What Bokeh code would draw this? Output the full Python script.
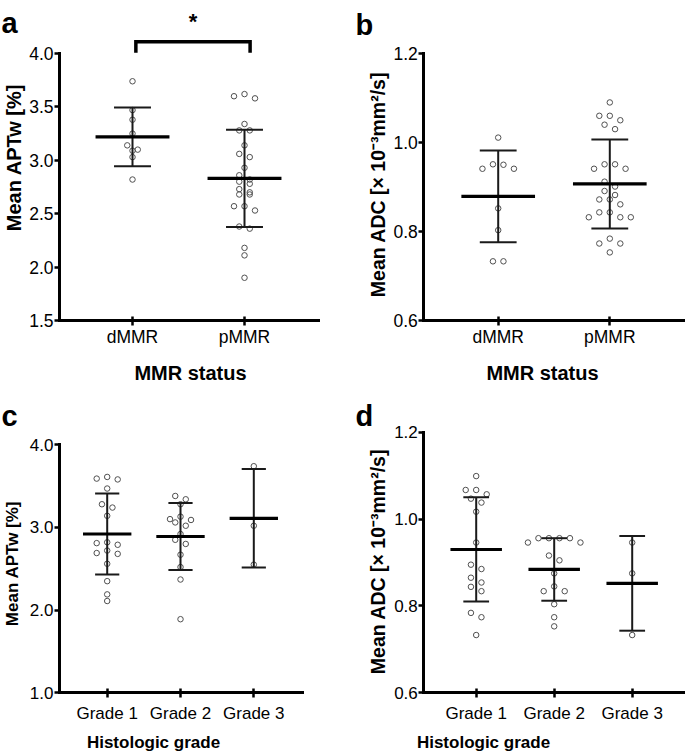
import math
from bokeh.plotting import figure
from bokeh.layouts import column, row
from bokeh.models import FixedTicker, PrintfTickFormatter, Range1d
from bokeh.core.properties import value
from bokeh.embed import file_html
from bokeh.resources import INLINE

FONT = "Liberation Sans"

# ---------------- data ----------------
mmr_groups = ["dMMR", "pMMR"]
grade_groups = ["Grade 1", "Grade 2", "Grade 3"]

aptw_dmmr = [3.74, 3.47, 3.38, 3.25, 3.14, 3.10, 3.09, 3.03, 2.82]
aptw_pmmr = [3.62, 3.60, 3.58, 3.34, 3.28, 3.28, 3.14, 3.06, 3.03, 2.93, 2.86, 2.82, 2.80,
             2.78, 2.73, 2.70, 2.68, 2.68, 2.57, 2.57, 2.53, 2.38, 2.36, 2.18, 2.11, 1.90]
aptw_mmr_mean = [3.22, 2.83]
aptw_mmr_sd = [0.275, 0.455]

adc_dmmr = [1.011, 0.951, 0.950, 0.941, 0.941, 0.852, 0.803, 0.733, 0.733]
adc_pmmr = [1.090, 1.060, 1.060, 1.050, 1.040, 1.030, 0.951, 0.951, 0.941, 0.941, 0.912, 0.901, 0.891,
            0.882, 0.872, 0.872, 0.861, 0.843, 0.843, 0.832, 0.832, 0.832, 0.784, 0.773, 0.773, 0.753]
adc_mmr_mean = [0.879, 0.907]
adc_mmr_sd = [0.103, 0.100]

aptw_g1 = [3.61, 3.59, 3.58, 3.47, 3.28, 3.24, 3.14, 2.82, 2.81, 2.79, 2.72, 2.69, 2.68,
           2.56, 2.35, 2.19, 2.11]
aptw_g2 = [3.38, 3.34, 3.28, 3.13, 3.10, 3.09, 3.06, 3.02, 2.92, 2.85, 2.80, 2.67, 2.52, 2.37, 1.89]
aptw_g3 = [3.74, 3.02, 2.55]
aptw_grade_mean = [2.92, 2.89, 3.11]
aptw_grade_sd = [0.49, 0.405, 0.595]

adc_g1 = [1.099, 1.067, 1.067, 1.057, 1.047, 1.038, 1.017, 0.946, 0.895, 0.885, 0.865, 0.854,
          0.844, 0.834, 0.784, 0.774, 0.733]
adc_g2 = [0.956, 0.956, 0.956, 0.956, 0.946, 0.946, 0.916, 0.905, 0.875, 0.845, 0.834, 0.834,
          0.804, 0.774, 0.753]
adc_g3 = [0.946, 0.875, 0.733]
adc_grade_mean = [0.930, 0.884, 0.852]
adc_grade_sd = [0.120, 0.072, 0.109]

aptw_ticks_mmr = [1.5, 2.0, 2.5, 3.0, 3.5, 4.0]
aptw_ticks_grade = [1.0, 2.0, 3.0, 4.0]
adc_ticks = [0.6, 0.8, 1.0, 1.2]

APTW_TITLE = "Mean APTw [%]"
ADC_TITLE = "Mean ADC [\u00d7 10\u207b\u00b3mm\u00b2/s]"


def swarm(vals, px_per_unit, thresh=5.0):
    """Prism-like column scatter: near-equal values share a row, spread symmetrically."""
    rows = []
    for v in sorted(vals, reverse=True):
        if rows and (rows[-1][0] - v) * px_per_unit < thresh:
            rows[-1].append(v)
        else:
            rows.append([v])
    ys, offs = [], []
    for r in rows:
        n = len(r)
        slots = sorted([i - (n - 1) / 2 for i in range(n)], key=lambda s: (abs(s), s))
        for v, s in zip(r, slots):
            ys.append(v)
            offs.append(s)
    return ys, offs


def make_panel(groups, series, means, sds, ylabel, xlabel, yticks, ybounds, letter, g,
               tick_fs, ytitle_fs, xtitle_fs, xlabel_standoff, star=None):
    # g: pixel geometry of the panel (layout only)
    X0, Y0, W, H = g["box"]
    xppu, yppu = g["xppu"], g["yppu"]

    def dx(px):
        return 1 + (px - g["xref"]) / xppu

    def dy(py):
        return g["yval"] + (g["yref"] - py) / yppu

    p = figure(width=W, height=H, output_backend="svg", toolbar_location=None,
               x_range=Range1d(dx(X0), dx(X0 + W)), y_range=Range1d(dy(Y0 + H), dy(Y0)),
               min_border=0, min_border_left=0, min_border_right=0,
               min_border_top=0, min_border_bottom=0)
    p.outline_line_color = None
    p.xgrid.visible = False
    p.ygrid.visible = False
    p.background_fill_color = "white"
    p.border_fill_color = "white"

    slot = 10.5 / xppu
    positions = list(range(1, len(groups) + 1))
    for pos, vals in zip(positions, series):
        ys, offs = swarm(vals, yppu)
        p.scatter([pos + o * slot for o in offs], ys, marker="circle", size=5.5,
                  fill_color=None, line_color="#505050", line_width=1)

    mean_hw = 0.33
    cap_hw = 0.165
    hi = [m + s for m, s in zip(means, sds)]
    lo = [m - s for m, s in zip(means, sds)]
    p.segment(x0=positions, x1=positions, y0=lo, y1=hi, line_color="#1a1a1a", line_width=2)
    p.segment(x0=[q - cap_hw for q in positions], x1=[q + cap_hw for q in positions],
              y0=hi, y1=hi, line_color="#1a1a1a", line_width=2)
    p.segment(x0=[q - cap_hw for q in positions], x1=[q + cap_hw for q in positions],
              y0=lo, y1=lo, line_color="#1a1a1a", line_width=2)
    p.segment(x0=[q - mean_hw for q in positions], x1=[q + mean_hw for q in positions],
              y0=means, y1=means, line_color="black", line_width=3.2)

    # axes, drawn at fixed locations so that they take no side-panel space
    x_axis_start = dx(g["yaxis_px"])
    x_axis_end = dx(g["xend_px"])
    for ax in (p.xaxis, p.yaxis):
        ax.axis_line_width = 3
        ax.axis_line_color = "black"
        ax.axis_line_cap = "square"
        ax.major_tick_line_width = 2.5
        ax.major_tick_line_color = "black"
        ax.minor_tick_line_color = None
        ax.major_label_text_font = FONT
        ax.major_label_text_font_size = tick_fs
        ax.major_label_text_color = "black"
    p.xaxis.ticker = FixedTicker(ticks=positions)
    p.xaxis.major_label_overrides = {q: lab for q, lab in zip(positions, groups)}
    p.xaxis.major_tick_in = 4
    p.xaxis.major_tick_out = 5
    p.xaxis.major_label_standoff = xlabel_standoff
    p.xaxis.bounds = (x_axis_start, x_axis_end)
    p.xaxis.fixed_location = ybounds[0]

    p.yaxis.ticker = FixedTicker(ticks=yticks)
    p.yaxis.formatter = PrintfTickFormatter(format="%.1f")
    p.yaxis.major_tick_in = 0
    p.yaxis.major_tick_out = 5
    p.yaxis.major_label_standoff = 1
    p.yaxis.bounds = ybounds
    p.yaxis.fixed_location = x_axis_start

    # axis titles as text placed where the reference has them
    tx, ty = g["ytitle_px"]
    p.text(x=[dx(tx)], y=[dy(ty)], text=[ylabel], angle=math.pi / 2, text_font=value(FONT),
           text_font_size=ytitle_fs, text_font_style="bold", text_color="black",
           text_align="center", text_baseline="middle")
    tx, ty = g["xtitle_px"]
    p.text(x=[dx(tx)], y=[dy(ty)], text=[xlabel], text_font=value(FONT),
           text_font_size=xtitle_fs, text_font_style="bold", text_color="black",
           text_align="center", text_baseline="middle")

    # panel letter
    lx, ly = g["letter_px"]
    p.text(x=[dx(lx)], y=[dy(ly)], text=[letter], text_font=value(FONT),
           text_font_size="29px", text_font_style="bold", text_color="black",
           text_baseline="alphabetic", text_align="left")

    if star is not None:
        i0, i1, by, sy, mark = star
        xa = positions[i0] + 0.03
        xb = positions[i1] + 0.05
        ydrop = ybounds[1] + 0.006
        p.line([xa, xa, xb, xb], [ydrop, by, by, ydrop], line_color="black",
               line_width=3.5, line_join="miter")
        p.text(x=[(xa + xb) / 2], y=[sy], text=[mark], text_font=value(FONT),
               text_font_size="22px", text_font_style="bold", text_color="black",
               text_align="center", text_baseline="middle")
    return p


geo_a = dict(box=(0, 0, 340, 386), xref=132.0, xppu=112.0, yval=1.5, yref=320.0, yppu=106.8,
             yaxis_px=59.0, xend_px=318.0, letter_px=(1.0, 22.0),
             ytitle_px=(13.0, 157.0), xtitle_px=(190.0, 372.0))
geo_b = dict(box=(340, 0, 345, 386), xref=497.7, xppu=111.6, yval=0.6, yref=320.0, yppu=445.0,
             yaxis_px=423.3, xend_px=683.0, letter_px=(355.0, 24.0),
             ytitle_px=(377.0, 184.0), xtitle_px=(542.0, 372.0))
geo_c = dict(box=(0, 386, 340, 367), xref=106.7, xppu=73.3, yval=1.0, yref=692.3, yppu=82.7,
             yaxis_px=59.0, xend_px=302.0, letter_px=(1.0, 415.0),
             ytitle_px=(12.0, 563.0), xtitle_px=(153.0, 742.0))
geo_d = dict(box=(340, 386, 345, 367), xref=475.7, xppu=78.0, yval=0.6, yref=692.3, yppu=434.3,
             yaxis_px=423.3, xend_px=683.0, letter_px=(355.0, 415.0),
             ytitle_px=(377.0, 561.0), xtitle_px=(483.0, 742.0))

pa = make_panel(mmr_groups, [aptw_dmmr, aptw_pmmr], aptw_mmr_mean, aptw_mmr_sd,
                APTW_TITLE, "MMR status", aptw_ticks_mmr, (1.5, 4.0), "a", geo_a,
                "17.5px", "20px", "20px", 1, star=(0, 1, 4.11, 4.30, "*"))
pb = make_panel(mmr_groups, [adc_dmmr, adc_pmmr], adc_mmr_mean, adc_mmr_sd,
                ADC_TITLE, "MMR status", adc_ticks, (0.6, 1.2), "b", geo_b,
                "17.5px", "19.5px", "20px", 1)
pc = make_panel(grade_groups, [aptw_g1, aptw_g2, aptw_g3], aptw_grade_mean, aptw_grade_sd,
                APTW_TITLE, "Histologic grade", aptw_ticks_grade, (1.0, 4.0), "c", geo_c,
                "17px", "17px", "17px", 6)
pd_ = make_panel(grade_groups, [adc_g1, adc_g2, adc_g3], adc_grade_mean, adc_grade_sd,
                 ADC_TITLE, "Histologic grade", adc_ticks, (0.6, 1.2), "d", geo_d,
                 "17px", "19.5px", "17px", 6)

layout = column(row(pa, pb), row(pc, pd_))
open("out.html", "w").write(file_html(layout, INLINE))
